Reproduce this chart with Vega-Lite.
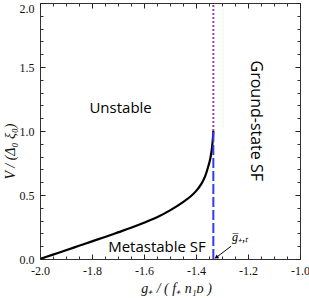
{
  "$schema": "https://vega.github.io/schema/vega-lite/v6.json",
  "autosize": "none",
  "width": 260,
  "height": 256,
  "padding": {"left": 40, "top": 3, "right": 9, "bottom": 39},
  "background": "white",
  "config": {"view": {"stroke": "#333", "strokeWidth": 1}},
  "datasets": {
    "curve": [
      {"g": -2.0, "V": 0.0}, {"g": -1.95, "V": 0.034}, {"g": -1.9, "V": 0.068}, {"g": -1.85, "V": 0.103},
      {"g": -1.8, "V": 0.138}, {"g": -1.75, "V": 0.172}, {"g": -1.7, "V": 0.208}, {"g": -1.65, "V": 0.244},
      {"g": -1.6, "V": 0.283}, {"g": -1.55, "V": 0.326}, {"g": -1.5, "V": 0.38}, {"g": -1.45, "V": 0.445},
      {"g": -1.42, "V": 0.49}, {"g": -1.4, "V": 0.53}, {"g": -1.38, "V": 0.585}, {"g": -1.365, "V": 0.645},
      {"g": -1.354, "V": 0.715}, {"g": -1.345, "V": 0.785}, {"g": -1.339, "V": 0.86}, {"g": -1.336, "V": 0.92},
      {"g": -1.334, "V": 0.97}, {"g": -1.3333, "V": 1.0}
    ],
    "vlines": [
      {"g": -1.3333, "v1": 0, "v2": 1, "kind": "metastable"},
      {"g": -1.3333, "v1": 1, "v2": 2, "kind": "unstable"}
    ],
    "labels": [
      {"g": -1.69, "v": 1.18, "label": "Unstable"},
      {"g": -1.55, "v": 0.094, "label": "Metastable SF"}
    ],
    "vlabel": [{"g": -1.17, "v": 1.08, "label": "Ground-state SF"}],
    "glabel": [{"g": -1.262, "v": 0.17, "label": "g̅₊,ₜ"}],
    "arrow": [{"g1": -1.265, "v1": 0.1, "g2": -1.322, "v2": 0.012}]
  },
  "resolve": {"scale": {"x": "independent", "y": "independent"}},
  "layer": [
    {
      "layer": [
        {
          "data": {"name": "curve"},
          "mark": {"type": "line", "color": "black", "strokeWidth": 2.2, "interpolate": "monotone", "clip": true},
          "encoding": {
            "x": {
              "field": "g", "type": "quantitative",
              "scale": {"domain": [-2, -1], "nice": false, "zero": false},
              "axis": {
                "orient": "bottom",
                "values": [-2, -1.8, -1.6, -1.4, -1.2, -1],
                "labelExpr": "replace(format(datum.value, '.1f'), '−', '-')",
                "labelOverlap": false, "labelBound": false, "labelFlush": false,
                "offset": -5, "tickSize": 5, "tickWidth": 1, "tickColor": "#222", "labelPadding": 6,
                "domain": false, "grid": false, "zindex": 1,
                "labelFont": "Liberation Serif", "labelFontSize": 12, "labelColor": "#111",
                "title": "g₊ / ( f₊ n₁ᴅ )",
                "titleFont": "Liberation Serif", "titleFontStyle": "italic", "titleFontWeight": "normal",
                "titleFontSize": 14, "titleColor": "#111", "titlePadding": 5, "titleX": 136
              }
            },
            "y": {
              "field": "V", "type": "quantitative",
              "scale": {"domain": [0, 2], "nice": false, "zero": false},
              "axis": {
                "orient": "left",
                "values": [0, 0.5, 1, 1.5, 2],
                "format": ".1f",
                "labelBaseline": {"condition": {"test": "datum.value > 1.99", "value": "top"}, "value": "middle"},
                "labelOverlap": false, "labelBound": false, "labelFlush": false,
                "offset": -5, "tickSize": 5, "tickWidth": 1, "tickColor": "#222", "labelPadding": 6,
                "domain": false, "grid": false, "zindex": 1,
                "labelFont": "Liberation Serif", "labelFontSize": 12, "labelColor": "#111",
                "title": "V / (Δ₀ ξ₀)",
                "titleFont": "Liberation Serif", "titleFontStyle": "italic", "titleFontWeight": "normal",
                "titleFontSize": 14, "titleColor": "#111", "titleBaseline": "middle", "titleX": -35, "titleY": 148
              }
            }
          }
        },
        {
          "data": {"name": "labels"},
          "mark": {"type": "text", "font": "Open Sans", "fontSize": 15, "color": "black", "align": "center", "baseline": "middle"},
          "encoding": {
            "x": {"field": "g", "type": "quantitative"},
            "y": {"field": "v", "type": "quantitative"},
            "text": {"field": "label"}
          }
        },
        {
          "data": {"name": "vlabel"},
          "mark": {"type": "text", "font": "Open Sans", "fontSize": 16, "color": "black", "align": "center", "baseline": "middle", "angle": 90},
          "encoding": {
            "x": {"field": "g", "type": "quantitative"},
            "y": {"field": "v", "type": "quantitative"},
            "text": {"field": "label"}
          }
        },
        {
          "data": {"name": "glabel"},
          "mark": {"type": "text", "font": "Liberation Serif", "fontStyle": "italic", "fontSize": 12, "color": "black", "align": "left", "baseline": "middle"},
          "encoding": {
            "x": {"field": "g", "type": "quantitative"},
            "y": {"field": "v", "type": "quantitative"},
            "text": {"field": "label"}
          }
        },
        {
          "data": {"name": "arrow"},
          "mark": {"type": "rule", "color": "black", "strokeWidth": 1},
          "encoding": {
            "x": {"field": "g1", "type": "quantitative"},
            "y": {"field": "v1", "type": "quantitative"},
            "x2": {"field": "g2"},
            "y2": {"field": "v2"}
          }
        },
        {
          "data": {"name": "arrow"},
          "mark": {"type": "point", "shape": "triangle-up", "filled": true, "color": "black", "size": 22, "angle": 237, "opacity": 1},
          "encoding": {
            "x": {"field": "g2", "type": "quantitative"},
            "y": {"field": "v2", "type": "quantitative"}
          }
        }
      ]
    },
    {
      "layer": [
        {
          "data": {"name": "vlines"},
          "transform": [{"filter": "datum.kind == 'metastable'"}],
          "mark": {"type": "rule", "color": "#3838f0", "strokeWidth": 2, "strokeDash": [10, 3]},
          "encoding": {
            "x": {
              "field": "g", "type": "quantitative",
              "scale": {"domain": [-2, -1], "nice": false, "zero": false},
              "axis": {
                "orient": "top",
                "values": [-2, -1.8, -1.6, -1.4, -1.2, -1],
                "labels": false, "title": null, "offset": -5, "tickSize": 5, "tickWidth": 1, "tickColor": "#222", "domain": false, "grid": false, "zindex": 1
              }
            },
            "y": {
              "field": "v1", "type": "quantitative",
              "scale": {"domain": [0, 2], "nice": false, "zero": false},
              "axis": {
                "orient": "right",
                "values": [0, 0.5, 1, 1.5, 2],
                "labels": false, "title": null, "offset": -5, "tickSize": 5, "tickWidth": 1, "tickColor": "#222", "domain": false, "grid": false, "zindex": 1
              }
            },
            "y2": {"field": "v2"}
          }
        },
        {
          "data": {"name": "vlines"},
          "transform": [{"filter": "datum.kind == 'unstable'"}],
          "mark": {"type": "rule", "color": "#9b3fc0", "strokeWidth": 2, "strokeDash": [2, 2]},
          "encoding": {
            "x": {"field": "g", "type": "quantitative"},
            "y": {"field": "v1", "type": "quantitative"},
            "y2": {"field": "v2"}
          }
        }
      ]
    },
    {
      "data": {"name": "vlines"},
      "mark": {"type": "rule", "opacity": 0},
      "encoding": {
        "x": {
          "field": "g", "type": "quantitative",
          "scale": {"domain": [-2, -1], "nice": false, "zero": false},
          "axis": {
            "orient": "bottom",
            "values": [-1.95, -1.9, -1.85, -1.75, -1.7, -1.65, -1.55, -1.5, -1.45, -1.35, -1.3, -1.25, -1.15, -1.1, -1.05],
            "labels": false, "title": null, "offset": -3, "tickSize": 3, "tickWidth": 1, "tickColor": "#333", "domain": false, "grid": false, "zindex": 1
          }
        },
        "y": {
          "field": "v1", "type": "quantitative",
          "scale": {"domain": [0, 2], "nice": false, "zero": false},
          "axis": {
            "orient": "left",
            "values": [0.1, 0.2, 0.3, 0.4, 0.6, 0.7, 0.8, 0.9, 1.1, 1.2, 1.3, 1.4, 1.6, 1.7, 1.8, 1.9],
            "labels": false, "title": null, "offset": -3, "tickSize": 3, "tickWidth": 1, "tickColor": "#333", "domain": false, "grid": false, "zindex": 1
          }
        },
        "y2": {"field": "v2"}
      }
    },
    {
      "data": {"name": "vlines"},
      "mark": {"type": "rule", "opacity": 0},
      "encoding": {
        "x": {
          "field": "g", "type": "quantitative",
          "scale": {"domain": [-2, -1], "nice": false, "zero": false},
          "axis": {
            "orient": "top",
            "values": [-1.95, -1.9, -1.85, -1.75, -1.7, -1.65, -1.55, -1.5, -1.45, -1.35, -1.3, -1.25, -1.15, -1.1, -1.05],
            "labels": false, "title": null, "offset": -3, "tickSize": 3, "tickWidth": 1, "tickColor": "#333", "domain": false, "grid": false, "zindex": 1
          }
        },
        "y": {
          "field": "v1", "type": "quantitative",
          "scale": {"domain": [0, 2], "nice": false, "zero": false},
          "axis": {
            "orient": "right",
            "values": [0.1, 0.2, 0.3, 0.4, 0.6, 0.7, 0.8, 0.9, 1.1, 1.2, 1.3, 1.4, 1.6, 1.7, 1.8, 1.9],
            "labels": false, "title": null, "offset": -3, "tickSize": 3, "tickWidth": 1, "tickColor": "#333", "domain": false, "grid": false, "zindex": 1
          }
        },
        "y2": {"field": "v2"}
      }
    }
  ]
}
